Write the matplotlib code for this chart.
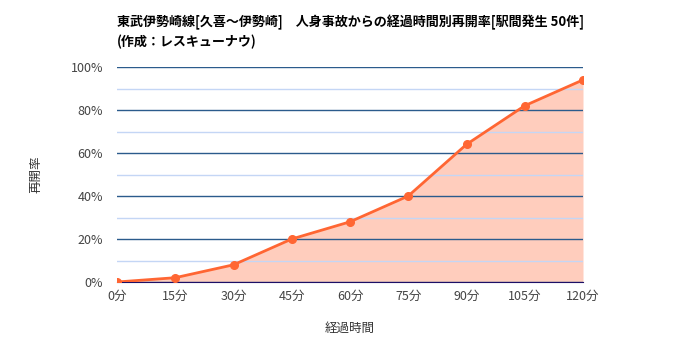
import matplotlib
matplotlib.use("Agg")
import matplotlib.pyplot as plt
from matplotlib.ticker import MultipleLocator, FuncFormatter

plt.rcParams['font.family'] = ['Noto Sans CJK JP', 'DejaVu Sans']

minutes = [0, 15, 30, 45, 60, 75, 90, 105, 120]
x_labels = ['0分', '15分', '30分', '45分', '60分', '75分', '90分', '105分', '120分']
rates = [0, 2, 8, 20, 28, 40, 64, 82, 94]

fig = plt.figure(figsize=(7, 3.5), dpi=100)
ax = fig.add_axes([117/700, 68/350, 466/700, 215/350])

line_c = '#ff6633'
ax.fill_between(minutes, rates, 0, color='#ffcdbd', zorder=1, linewidth=0)
ax.plot(minutes, rates, color=line_c, lw=2, marker='o', ms=5.5, zorder=3)

ax.set_xlim(0, 120)
ax.set_ylim(0, 100)
ax.set_xticks(minutes)
ax.set_xticklabels(x_labels)
ax.yaxis.set_major_locator(MultipleLocator(20))
ax.yaxis.set_minor_locator(MultipleLocator(10))
ax.yaxis.set_major_formatter(FuncFormatter(lambda v, p: f'{int(v)}%'))
ax.grid(axis='y', which='major', color='#2b5b8c', lw=1, zorder=2)
ax.grid(axis='y', which='minor', color='#c4d6f5', lw=1, zorder=2)
for s in ['top', 'left', 'right']:
    ax.spines[s].set_visible(False)
ax.spines['bottom'].set_color('#1c0f66')
ax.spines['bottom'].set_zorder(2.5)
ax.tick_params(axis='both', which='both', length=0, labelsize=9, colors='#444444')
ax.tick_params(axis='x', pad=6)
ax.tick_params(axis='y', pad=10)
ax.set_axisbelow(False)

ax.set_xlabel('経過時間', fontsize=9, style='italic', color='#333333', labelpad=13)
ax.set_ylabel('再開率', fontsize=9, style='italic', color='#333333', labelpad=20)

fig.text(117/700, 1 - 22/350, '東武伊勢崎線[久喜～伊勢崎]　人身事故からの経過時間別再開率[駅間発生 50件]',
         fontsize=9.4, fontweight='bold', va='center', ha='left', color='#000000')
fig.text(117/700, 1 - 42/350, '(作成：レスキューナウ)',
         fontsize=9.4, fontweight='bold', va='center', ha='left', color='#000000')

fig.savefig('out.png', dpi=100)
